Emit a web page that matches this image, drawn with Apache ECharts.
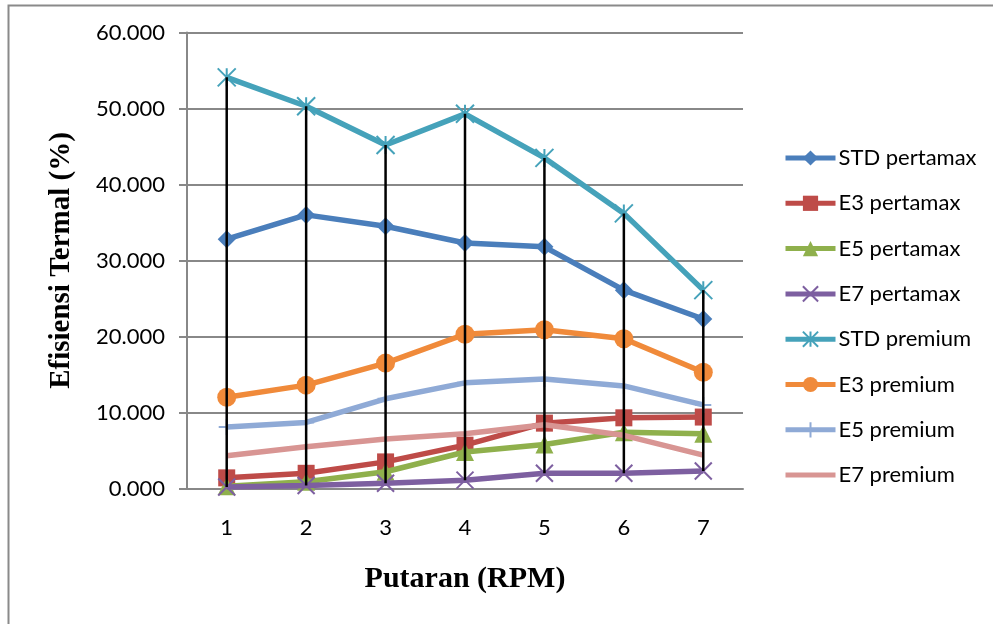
<!DOCTYPE html>
<html>
<head>
<meta charset="utf-8">
<script src="https://cdn.jsdelivr.net/npm/echarts@6/dist/echarts.min.js"></script>
<style>
html,body{margin:0;padding:0;background:#fff;}
#chart{width:993px;height:624px;}
</style>
</head>
<body>
<div id="chart"></div>
<script>
var categories = ['1', '2', '3', '4', '5', '6', '7'];
var seriesNames = ['STD pertamax', 'E3 pertamax', 'E5 pertamax', 'E7 pertamax', 'STD premium', 'E3 premium', 'E5 premium', 'E7 premium'];
var stdPertamax = [32.8, 36.0, 34.5, 32.3, 31.8, 26.1, 22.3];
var e3Pertamax  = [1.4, 2.0, 3.5, 5.7, 8.6, 9.3, 9.4];
var e5Pertamax  = [0.3, 0.9, 2.2, 4.8, 5.8, 7.4, 7.2];
var e7Pertamax  = [0.2, 0.4, 0.7, 1.1, 2.0, 2.0, 2.3];
var stdPremium  = [54.1, 50.3, 45.2, 49.3, 43.5, 36.2, 26.1];
var e3Premium   = [12.0, 13.6, 16.5, 20.3, 20.9, 19.7, 15.3];
var e5Premium   = [8.1, 8.7, 11.8, 13.9, 14.4, 13.5, 11.0];
var e7Premium   = [4.3, 5.5, 6.5, 7.2, 8.4, 7.0, 4.4];
var yMin = 0, yMax = 60, yStep = 10;

var allData = [stdPertamax, e3Pertamax, e5Pertamax, e7Pertamax, stdPremium, e3Premium, e5Premium, e7Premium];
var colors = ['#4A7EBB', '#BE4B48', '#8FB04C', '#7D5FA0', '#45A2BA', '#F08A3A', '#8FAAD6', '#D89593'];
var FONT = 'Lato';

var X_PATH = 'path://M0,0L10,10M10,0L0,10';
var AST_PATH = 'path://M0,0L10,10M10,0L0,10M5,0L5,10';
var PLUS_PATH = 'path://M5,0L5,10M0,5L10,5';
var LINE_ICON = 'path://M0,0L50,0L50,5L0,5Z';

var symbolDefs = [
  {symbol: 'diamond', size: 18, stroke: false},
  {symbol: 'rect', size: 17, stroke: false},
  {symbol: 'triangle', size: 18, stroke: false},
  {symbol: X_PATH, size: 17, stroke: true},
  {symbol: AST_PATH, size: 18, stroke: true},
  {symbol: 'circle', size: 19, stroke: false},
  {symbol: PLUS_PATH, size: 16, stroke: true},
  {symbol: 'none', size: 0, stroke: false}
];

var lineSeries = seriesNames.map(function (name, i) {
  var sd = symbolDefs[i];
  var itemStyle = sd.stroke
    ? {color: 'rgba(0,0,0,0)', borderColor: colors[i], borderWidth: 2}
    : {color: colors[i], borderWidth: 0};
  return {
    name: name,
    type: 'line',
    data: allData[i],
    symbol: sd.symbol,
    symbolSize: sd.size,
    showSymbol: sd.symbol !== 'none',
    lineStyle: {color: colors[i], width: 5.5},
    itemStyle: itemStyle,
    emphasis: {disabled: true},
    z: 2 + i * 0.01,
    animation: false
  };
});

var legendData = seriesNames.map(function (name, i) {
  if (symbolDefs[i].symbol === 'none') {
    return {name: name, icon: LINE_ICON, itemStyle: {color: colors[i]}};
  }
  return {name: name};
});

var dropData = categories.map(function (c, i) {
  var vals = allData.map(function (s) { return s[i]; });
  return [i, Math.min.apply(null, vals), Math.max.apply(null, vals)];
});

var dropSeries = {
  type: 'custom',
  name: 'drop',
  data: dropData,
  encode: {x: 0, y: [1, 2]},
  z: 10,
  silent: true,
  animation: false,
  renderItem: function (params, api) {
    var p1 = api.coord([api.value(0), api.value(1)]);
    var p2 = api.coord([api.value(0), api.value(2)]);
    return {
      type: 'line',
      shape: {x1: p1[0], y1: p1[1], x2: p2[0], y2: p2[1]},
      style: {stroke: '#000', lineWidth: 2.5}
    };
  }
};

var chart = echarts.init(document.getElementById('chart'), null, {renderer: 'canvas'});
chart.setOption({
  animation: false,
  backgroundColor: '#fff',
  graphic: [{
    type: 'rect',
    shape: {x: 8.5, y: 5.5, width: 1100, height: 800},
    style: {fill: 'none', stroke: '#8a8a8a', lineWidth: 2},
    silent: true,
    z: 0
  }],
  grid: {left: 187, right: 250, top: 32.5, bottom: 135.5, containLabel: false},
  legend: {
    data: legendData,
    orient: 'vertical',
    left: 778,
    top: 142,
    itemWidth: 50,
    itemHeight: 19,
    itemGap: 23.3,
    selectedMode: false,
    lineStyle: {width: 5},
    textStyle: {fontFamily: FONT, fontSize: 22, color: '#000', padding: [0, 0, 0, -2]}
  },
  xAxis: {
    type: 'category',
    data: categories,
    boundaryGap: true,
    name: 'Putaran (RPM)',
    nameLocation: 'middle',
    nameGap: 76,
    nameTextStyle: {fontFamily: 'Liberation Serif', fontWeight: 'bold', fontSize: 30, color: '#000'},
    axisLine: {lineStyle: {color: '#888', width: 2}},
    axisTick: {show: false},
    axisLabel: {fontFamily: FONT, fontSize: 22, color: '#000', margin: 28},
    splitLine: {show: false}
  },
  yAxis: {
    type: 'value',
    min: yMin,
    max: yMax,
    interval: yStep,
    name: 'Efisiensi Termal (%)',
    nameLocation: 'middle',
    nameRotate: 90,
    nameGap: 111,
    nameTextStyle: {fontFamily: 'Liberation Serif', fontWeight: 'bold', fontSize: 29, color: '#000'},
    axisLine: {show: true, lineStyle: {color: '#888', width: 2}},
    axisTick: {show: true, inside: false, length: 8, lineStyle: {color: '#888', width: 2}},
    axisLabel: {fontFamily: FONT, fontSize: 22, color: '#000', margin: 22,
      formatter: function (v) { return v.toFixed(3); }},
    splitLine: {show: true, lineStyle: {color: '#888', width: 2}}
  },
  series: lineSeries.concat([dropSeries])
});
</script>
</body>
</html>
